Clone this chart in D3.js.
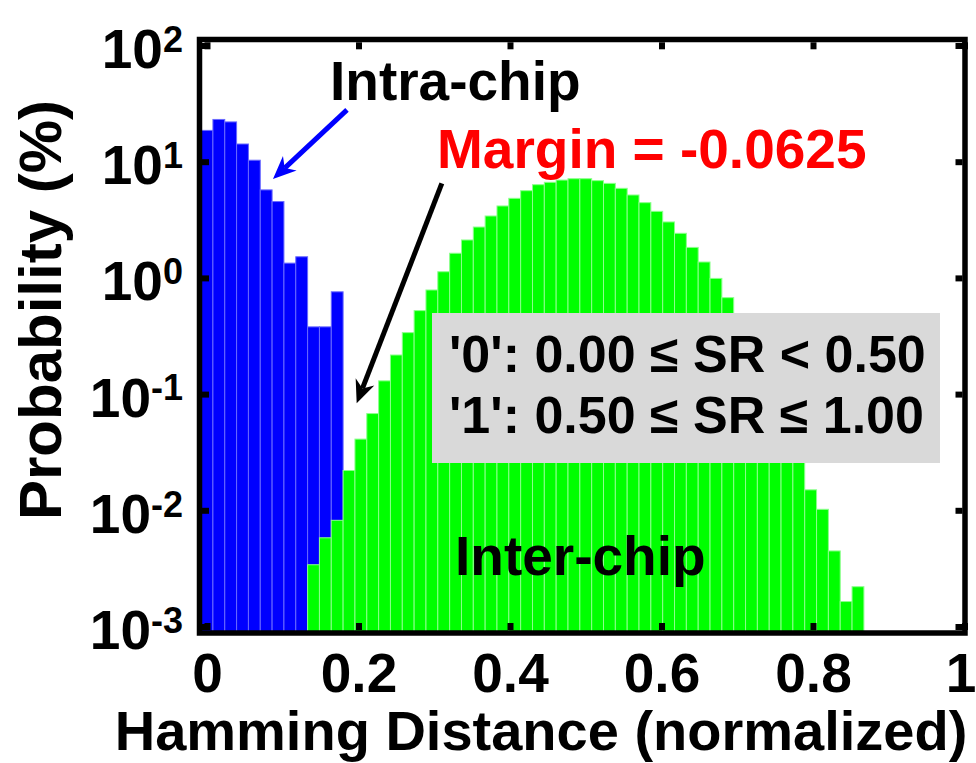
<!DOCTYPE html>
<html lang="en">
<head>
  <meta charset="UTF-8" />
  <title>Hamming Distance Histogram</title>
  <script src="https://cdn.jsdelivr.net/npm/d3@7"></script>
  <style>
    body {
      margin: 0;
      background: #ffffff;
    }
    svg text {
      font-family: "Liberation Sans", Arial, sans-serif;
      font-weight: bold;
    }
  </style>
</head>
<body>
<div id="chart"></div>

<script>
// histogram bins are 1/64 wide, bars centred on k/64
const binWidth = 1 / 64;

// intra-chip (blue), bins 0..11, probability in %
const intraFirstBin = 0;
const intraProb = [18.6, 23.1, 22.0, 14.2, 10.3, 5.72, 4.54, 1.34, 1.52, 0.379, 0.379, 0.759];

// inter-chip (green), bins 9..55, probability in %
const interFirstBin = 9;
const interProb = [
  0.0034, 0.0058, 0.0082, 0.022, 0.041, 0.068, 0.13, 0.217, 0.338, 0.523,
  0.787, 1.13, 1.63, 2.12, 2.74, 3.41, 4.16, 4.84, 5.63, 6.34,
  6.65, 6.95, 7.14, 7.14, 6.87, 6.51, 5.90, 5.17, 4.44, 3.74,
  3.03, 2.42, 1.83, 1.37, 0.99, 0.676, 0.44, 0.28, 0.17, 0.10,
  0.065, 0.042, 0.015, 0.0102, 0.00447, 0.00164, 0.0022
];

const xTicks = [0, 0.2, 0.4, 0.6, 0.8, 1];
const yTicks = [1e-3, 1e-2, 1e-1, 1e0, 1e1, 1e2];

const width = 976, height = 763;

// frame (spine centres)
const frame = { left: 199.5, right: 965, top: 39.5, bottom: 633 };

const x = d3.scaleLinear().domain([0, 1]).range([207, 964.5]);
const y = d3.scaleLog().domain([1e-3, 1e2]).range([626.5, 45.5]);

const svg = d3.select("#chart")
  .append("svg")
  .attr("width", width)
  .attr("height", height);

function toBars(probs, first) {
  return probs.map((p, i) => ({ hd: (first + i) * binWidth, p }));
}

function drawBars(data, fill, edge) {
  svg.append("g")
    .selectAll("rect")
    .data(data)
    .join("rect")
    .attr("x", d => x(d.hd - binWidth / 2))
    .attr("width", d => x(d.hd + binWidth / 2) - x(d.hd - binWidth / 2))
    .attr("y", d => y(d.p))
    .attr("height", d => frame.bottom - y(d.p))
    .attr("fill", fill)
    .attr("stroke", edge)
    .attr("stroke-width", 1);
}

drawBars(toBars(intraProb, intraFirstBin), "#0000ff", "#6a6aff");
drawBars(toBars(interProb, interFirstBin), "#00ff00", "#8cff8c");

// grey legend box
svg.append("rect")
  .attr("x", 432)
  .attr("y", 313)
  .attr("width", 508)
  .attr("height", 150)
  .attr("fill", "#d9d9d9");

svg.append("text")
  .attr("x", 449)
  .attr("y", 372)
  .attr("font-size", 52)
  .text("'0': 0.00 \u2264 SR < 0.50");

svg.append("text")
  .attr("x", 449)
  .attr("y", 433)
  .attr("font-size", 52)
  .text("'1': 0.50 \u2264 SR \u2264 1.00");

// annotations
svg.append("text")
  .attr("x", 330)
  .attr("y", 100)
  .attr("font-size", 55)
  .text("Intra-chip");

svg.append("text")
  .attr("x", 437)
  .attr("y", 168)
  .attr("font-size", 55)
  .attr("fill", "#ff0000")
  .text("Margin = -0.0625");

svg.append("text")
  .attr("x", 455)
  .attr("y", 575)
  .attr("font-size", 55)
  .text("Inter-chip");

// arrows (start and tip in data coords)
function arrow(x0, y0, x1, y1, color) {
  const p0 = [x(x0), y(y0)], p1 = [x(x1), y(y1)];
  const dx = p1[0] - p0[0], dy = p1[1] - p0[1];
  const len = Math.hypot(dx, dy);
  const ux = dx / len, uy = dy / len;
  const nx = -uy, ny = ux;
  const L = 23, W = 10, notch = 7;
  const back = [p1[0] - (L - notch) * ux, p1[1] - (L - notch) * uy];
  svg.append("line")
    .attr("x1", p0[0]).attr("y1", p0[1])
    .attr("x2", back[0]).attr("y2", back[1])
    .attr("stroke", color)
    .attr("stroke-width", 5);
  svg.append("path")
    .attr("d", d3.line()([
      p1,
      [p1[0] - L * ux + W * nx, p1[1] - L * uy + W * ny],
      back,
      [p1[0] - L * ux - W * nx, p1[1] - L * uy - W * ny]
    ]) + "Z")
    .attr("fill", color);
}

arrow(0.1848, 27.9, 0.0871, 7.1, "#0000ff");
arrow(0.31, 6.5, 0.1976, 0.0833, "#000000");

// axes
const xAxis = svg.append("g")
  .attr("transform", `translate(0,${frame.bottom - 3})`)
  .call(d3.axisBottom(x).tickValues(xTicks).tickSize(-7).tickFormat(d3.format("~g")));
xAxis.select(".domain").remove();
xAxis.selectAll("line").attr("stroke", "#000").attr("stroke-width", 6);
xAxis.selectAll("text")
  .attr("x", d => d === 1 ? -4 : 0)
  .attr("y", 62)
  .attr("dy", null)
  .attr("font-size", 55)
  .attr("fill", "#000");

const xTop = svg.append("g")
  .attr("transform", `translate(0,${frame.top + 2.8})`)
  .call(d3.axisTop(x).tickValues(xTicks).tickSize(-7).tickFormat(""));
xTop.select(".domain").remove();
xTop.selectAll("line").attr("stroke", "#000").attr("stroke-width", 6);

const yAxis = svg.append("g")
  .attr("transform", `translate(${frame.left + 2.5},0)`)
  .call(d3.axisLeft(y).tickValues(yTicks).tickSize(-7));
yAxis.select(".domain").remove();
yAxis.selectAll("line").attr("stroke", "#000").attr("stroke-width", 6);
yAxis.selectAll("text")
  .attr("x", -19)
  .attr("dy", "0.4em")
  .attr("font-size", 55)
  .attr("fill", "#000")
  .each(function (d) {
    const t = d3.select(this);
    t.text("");
    t.append("tspan").text("10");
    t.append("tspan")
      .attr("dy", "-0.45em")
      .attr("font-size", 36)
      .text(Math.round(Math.log10(d)));
  });

const yRight = svg.append("g")
  .attr("transform", `translate(${frame.right - 2.5},0)`)
  .call(d3.axisRight(y).tickValues(yTicks).tickSize(-7).tickFormat(""));
yRight.select(".domain").remove();
yRight.selectAll("line").attr("stroke", "#000").attr("stroke-width", 6);

// box
svg.append("rect")
  .attr("x", frame.left)
  .attr("y", frame.top)
  .attr("width", frame.right - frame.left)
  .attr("height", frame.bottom - frame.top)
  .attr("fill", "none")
  .attr("stroke", "#000")
  .attr("stroke-width", 5.5);

// axis labels
svg.append("text")
  .attr("x", 541)
  .attr("y", 750)
  .attr("text-anchor", "middle")
  .attr("font-size", 56)
  .text("Hamming Distance (normalized)");

svg.append("text")
  .attr("transform", "translate(61,310) rotate(-90)")
  .attr("text-anchor", "middle")
  .attr("font-size", 60)
  .text("Probability (%)");
</script>
</body>
</html>
